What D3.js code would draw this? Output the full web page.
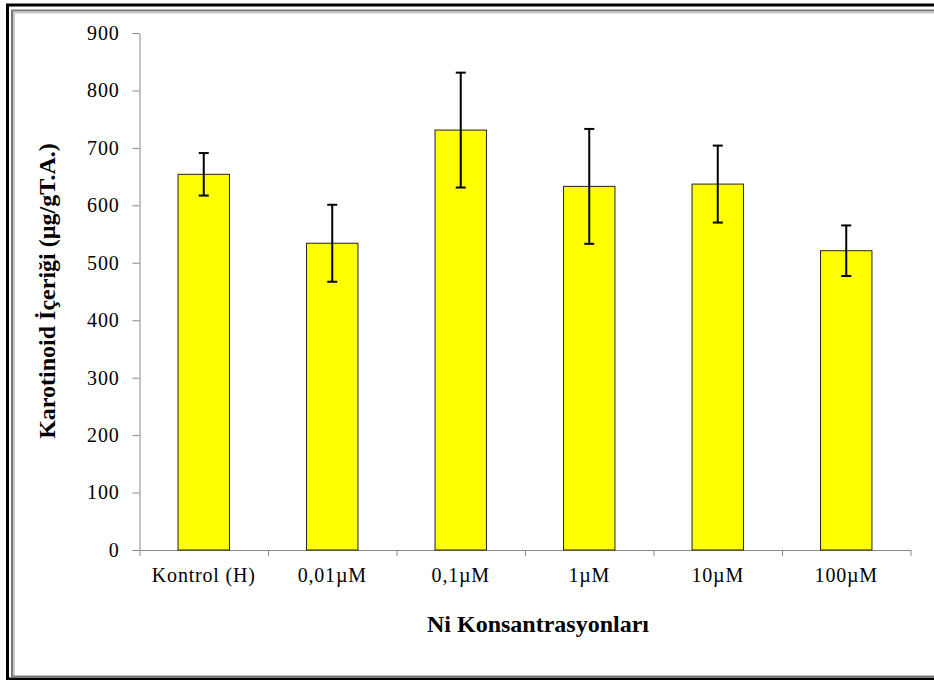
<!DOCTYPE html>
<html>
<head>
<meta charset="utf-8">
<script src="https://cdn.jsdelivr.net/npm/d3@7"></script>
<style>
  body { margin: 0; background: #fff; }
</style>
</head>
<body>
<div id="chart"></div>
<script>
let categories = ['Kontrol (H)', '0,01\u00b5M', '0,1\u00b5M', '1\u00b5M', '10\u00b5M', '100\u00b5M'];
let values = [654, 534, 731, 633, 637, 521];
let errors = [37, 67, 100, 100, 67, 44];
let yTicks = [0, 100, 200, 300, 400, 500, 600, 700, 800, 900];

let serif = "'Liberation Serif', 'Times New Roman', Times, serif";

let width = 934, height = 680,
    plot = {left: 139.5, right: 910.5, top: 33, bottom: 550};

let svg = d3.select('#chart').append('svg')
    .attr('width', width)
    .attr('height', height)
    .style('font-family', serif);

// frame (outer black, inner grey shadow)
svg.append('path')
    .attr('d', `M7.5,680 V5 H934 M7.5,679 H934`)
    .attr('fill', 'none')
    .attr('stroke', '#000')
    .attr('stroke-width', 3);
svg.append('path')
    .attr('d', `M12,677 V10.5 H934 M12,676.5 H934`)
    .attr('fill', 'none')
    .attr('stroke', '#777')
    .attr('stroke-width', 2);
svg.append('path')
    .attr('d', `M14,675 V12.5 H934`)
    .attr('fill', 'none')
    .attr('stroke', '#c8c8c8')
    .attr('stroke-width', 2);

let xScale = d3.scaleBand()
    .domain(categories)
    .range([plot.left, plot.right])
    .paddingInner(0.6)
    .paddingOuter(0.3);

let xTickScale = d3.scaleLinear()
    .domain([0, categories.length])
    .range([plot.left, plot.right]);

let yScale = d3.scaleLinear()
    .domain([0, 900])
    .range([plot.bottom, plot.top]);

// y axis
let yAxis = svg.append('g')
    .attr('transform', `translate(${plot.left}, 0)`)
    .call(d3.axisLeft(yScale).tickValues(yTicks).tickSize(7).tickSizeOuter(0).tickPadding(13));
yAxis.attr('font-family', null).attr('font-size', null);
yAxis.select('.domain').attr('stroke', '#888');
yAxis.selectAll('.tick line').attr('stroke', '#888');
yAxis.selectAll('.tick text')
    .attr('fill', '#000')
    .style('font-family', serif)
    .style('font-size', '20px')
    .attr('letter-spacing', 0.8);

// x axis ticks at category boundaries
let xAxis = svg.append('g')
    .attr('transform', `translate(0, ${plot.bottom})`)
    .call(d3.axisBottom(xTickScale).ticks(categories.length).tickSize(6).tickSizeOuter(0).tickFormat(''));
xAxis.select('.domain').attr('stroke', '#888');
xAxis.selectAll('.tick line').attr('stroke', '#888');

// x labels
let xLabels = svg.append('g')
    .attr('transform', `translate(0, ${plot.bottom})`)
    .call(d3.axisBottom(xScale).tickSize(0).tickPadding(18));
xLabels.attr('font-family', null).attr('font-size', null);
xLabels.select('.domain').remove();
xLabels.selectAll('.tick text')
    .attr('fill', '#000')
    .style('font-family', serif)
    .style('font-size', '20px')
    .attr('letter-spacing', 0.8);

// bars
svg.append('g').selectAll('rect')
    .data(values)
    .join('rect')
    .attr('x', (d, i) => xScale(categories[i]))
    .attr('y', d => yScale(d))
    .attr('width', xScale.bandwidth())
    .attr('height', d => yScale(0) - yScale(d))
    .attr('fill', '#ffff00')
    .attr('stroke', '#222')
    .attr('stroke-width', 1);

// error bars
let errG = svg.append('g')
    .attr('stroke', '#000')
    .attr('stroke-width', 2);
values.forEach((v, i) => {
    let cx = xScale(categories[i]) + xScale.bandwidth() / 2;
    let top = yScale(v + errors[i]), bot = yScale(v - errors[i]);
    errG.append('line').attr('x1', cx).attr('x2', cx).attr('y1', top).attr('y2', bot);
    errG.append('line').attr('x1', cx - 5).attr('x2', cx + 5).attr('y1', top).attr('y2', top);
    errG.append('line').attr('x1', cx - 5).attr('x2', cx + 5).attr('y1', bot).attr('y2', bot);
});

// axis titles
svg.append('text')
    .attr('x', 538)
    .attr('y', 632)
    .attr('text-anchor', 'middle')
    .style('font-size', '24px')
    .style('font-weight', 'bold')
    .text('Ni Konsantrasyonları');

svg.append('text')
    .attr('transform', 'translate(55, 291) rotate(-90)')
    .attr('text-anchor', 'middle')
    .style('font-size', '24px')
    .style('font-weight', 'bold')
    .text('Karotinoid İçeriği (µg/gT.A.)');
</script>
</body>
</html>
